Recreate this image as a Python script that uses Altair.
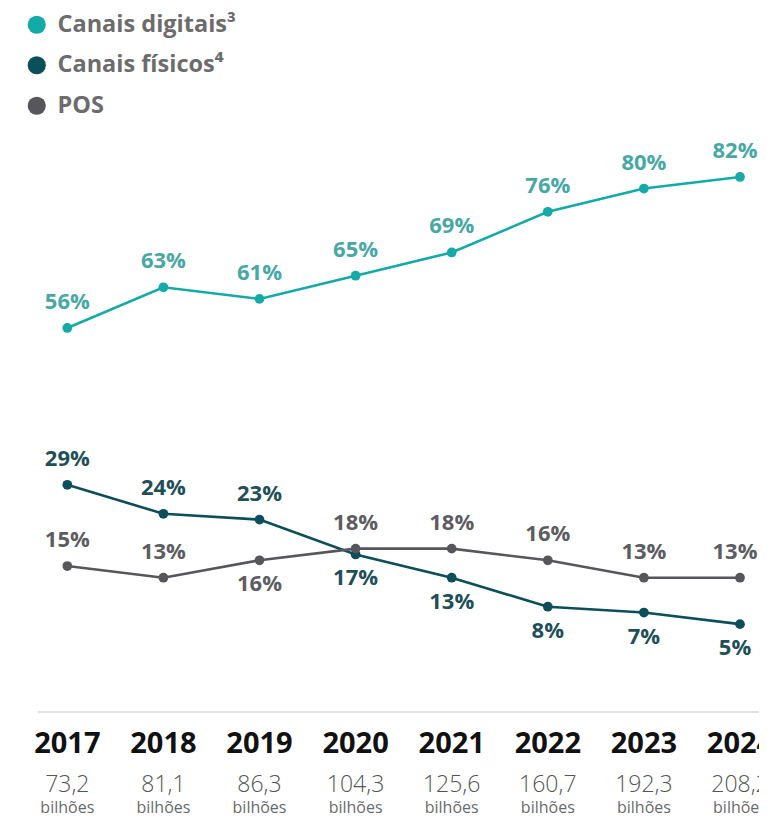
import altair as alt
import pandas as pd

# ---- data ----
years = [2017, 2018, 2019, 2020, 2021, 2022, 2023, 2024]
series_names = ["Canais digitais³", "Canais físicos⁴", "POS"]
digitais = [56, 63, 61, 65, 69, 76, 80, 82]
fisicos = [29, 24, 23, 17, 13, 8, 7, 5]
pos = [15, 13, 16, 18, 18, 16, 13, 13]
totais = [73.2, 81.1, 86.3, 104.3, 125.6, 160.7, 192.3, 208.2]

line_colors = ["#14aaa8", "#0b4f5a", "#57575b"]
label_colors = ["#48a8a6", "#1f4f58", "#5d5d61"]

rows = []
for name, vals in zip(series_names, [digitais, fisicos, pos]):
    for y, v in zip(years, vals):
        rows.append({"series": name, "year": y, "value": v})
df = pd.DataFrame(rows)
tot_df = pd.DataFrame({"year": years, "total": totais})

W, H = 751, 811
FONT = "Open Sans"

xscale = alt.Scale(domain=[2016.3829, 2024.1977], nice=False, zero=False)
yscale = alt.Scale(domain=[-28.55, 111.09], nice=False, zero=False)
cscale = alt.Scale(domain=series_names, range=line_colors)

x = alt.X("year:Q", scale=xscale, axis=None)
y = alt.Y("value:Q", scale=yscale, axis=None)

base = alt.Chart(df)

rule = alt.Chart(pd.DataFrame({"a": [0]})).mark_rule(color="#e2e2e2", strokeWidth=2).encode(
    x=alt.value(30), x2=alt.value(W), y=alt.value(704)
)

lines = base.mark_line(strokeWidth=2.6).encode(
    x=x, y=y,
    color=alt.Color(
        "series:N", scale=cscale, sort=series_names,
        legend=alt.Legend(
            title=None, orient="none", legendX=17, legendY=5,
            symbolType="circle", symbolSize=330, symbolStrokeWidth=0,
            labelFont=FONT, labelFontSize=23.5, labelFontWeight="bold",
            labelColor="#6c6c6c", labelOffset=9, rowPadding=15.5,
            labelLimit=400,
        ),
    ),
    order=alt.Order("year:Q"),
)

points = base.mark_circle(size=95, opacity=1).encode(
    x=x, y=y, color=alt.Color("series:N", scale=cscale, legend=None)
)

below_expr = (
    "((datum.series == '" + series_names[1] + "' && datum.year >= 2020) || "
    "(datum.series == 'POS' && datum.year == 2019))"
)
color_expr = (
    "datum.series == '" + series_names[0] + "' ? '" + label_colors[0] + "' : "
    "datum.series == '" + series_names[1] + "' ? '" + label_colors[1] + "' : '" + label_colors[2] + "'"
)

labels_base = base.transform_calculate(
    label="format(datum.value, 'd') + '%'", lc=color_expr
)


def label_layer(filter_expr, dy, dx):
    return labels_base.transform_filter(filter_expr).mark_text(
        font=FONT, fontSize=22, fontWeight="bold", baseline="middle", dy=dy, dx=dx
    ).encode(x=x, y=y, text="label:N", color=alt.Color("lc:N", scale=None))


last = "datum.year == 2024"
text_layers = [
    label_layer("!" + below_expr + " && !(" + last + ")", -26, 0),
    label_layer("!" + below_expr + " && (" + last + ")", -26, -5),
    label_layer(below_expr + " && !(" + last + ")", 24, 0),
    label_layer(below_expr + " && (" + last + ")", 24, -5),
]

tot_base = alt.Chart(tot_df).transform_calculate(
    ytxt="toString(datum.year)",
    ttxt="replace(format(datum.total, '.1f'), '.', ',')",
)

year_text = tot_base.mark_text(
    font=FONT, fontSize=29, fontWeight="bold", color="#111111", baseline="alphabetic"
).encode(x=alt.X("year:Q", scale=xscale, axis=None), y=alt.value(745), text="ytxt:N")

tot_text = tot_base.mark_text(
    font=FONT, fontSize=23, fontWeight=300, color="#555555", baseline="alphabetic"
).encode(x=alt.X("year:Q", scale=xscale, axis=None), y=alt.value(784), text="ttxt:N")

bil_text = tot_base.mark_text(
    font=FONT, fontSize=16, color="#6a6a6a", baseline="alphabetic"
).encode(x=alt.X("year:Q", scale=xscale, axis=None), y=alt.value(805), text=alt.value("bilhões"))

chart = alt.layer(
    rule, lines, points, *text_layers, year_text, tot_text, bil_text
).properties(
    width=W, height=H, padding=0, autosize=alt.AutoSizeParams(type="none"),
    background="white",
).configure_view(stroke=None)

chart.save("out.html", embed_options={"renderer": "svg", "actions": False})
